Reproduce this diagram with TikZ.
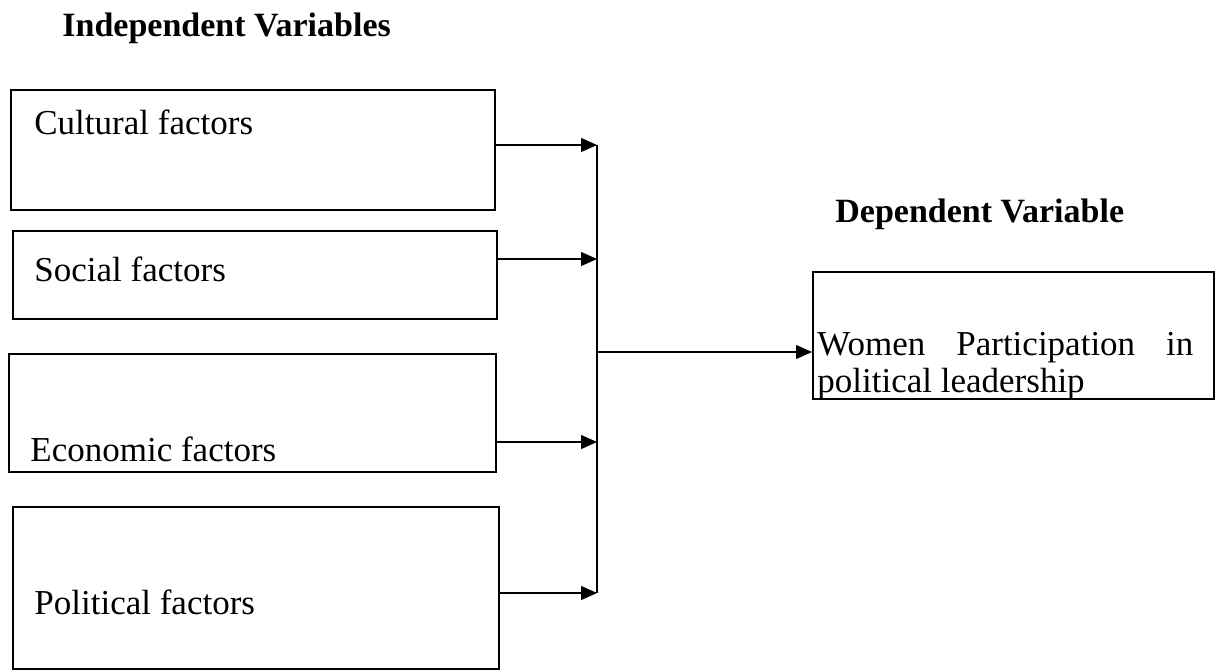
\documentclass[tikz,border=0pt]{standalone}
\usepackage{fontspec}
\setmainfont{Liberation Serif}
\usetikzlibrary{arrows.meta}
\begin{document}
\begin{tikzpicture}[x=0.5pt,y=-0.5pt,
  box/.style={draw,line width=1pt,inner sep=0pt,anchor=north west},
  lbl/.style={anchor=base west,inner sep=0pt,font=\fontsize{17.5}{20}\selectfont},
  head/.style={anchor=base west,inner sep=0pt,font=\fontsize{17}{20}\selectfont\bfseries},
  conn/.style={line width=0.6pt,-{Triangle[length=8pt,width=7pt]}},
  plain/.style={line width=0.6pt}]
\useasboundingbox (0,0) rectangle (1226,670);
\node[head] (hi) at (62,36) {Independent Variables};
\node[head] (hd) at (835,222) {Dependent Variable};
\node[box,minimum width=242pt,minimum height=60pt] (b1) at (10,89) {};
\node[box,minimum width=242pt,minimum height=44pt] (b2) at (12,230) {};
\node[box,minimum width=243.5pt,minimum height=59pt] (b3) at (8,353) {};
\node[box,minimum width=243pt,minimum height=81pt] (b4) at (12,506) {};
\node[box,minimum width=200.5pt,minimum height=63.5pt] (d) at (812,271) {};
\node[lbl] (t1) at (34,134) {Cultural factors};
\node[lbl] (t2) at (34,281) {Social factors};
\node[lbl] (t3) at (30,461) {Economic factors};
\node[lbl] (t4) at (34,614) {Political factors};
\node[lbl] (t5) at (817,355) {\hbox to 188pt{Women\hfill Participation\hfill in}};
\node[lbl] (t6) at (817,392) {political leadership};
\coordinate (j1) at (597,145);
\coordinate (j2) at (597,259);
\coordinate (j3) at (597,442);
\coordinate (j4) at (597,593);
\coordinate (jm) at (597,352);
\draw[conn] (b1.east |- j1) -- (j1);
\draw[conn] (b2.east |- j2) -- (j2);
\draw[conn] (b3.east |- j3) -- (j3);
\draw[conn] (b4.east |- j4) -- (j4);
\draw[plain] (j1) -- (j4);
\draw[conn] (jm) -- (d.west |- jm);
\end{tikzpicture}
\end{document}
